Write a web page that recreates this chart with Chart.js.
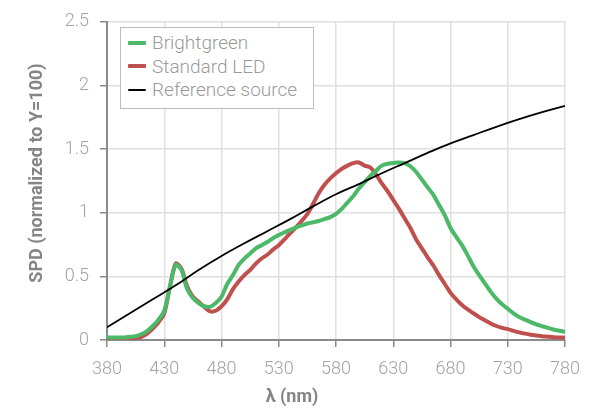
<!DOCTYPE html>
<html>
<head>
<meta charset="utf-8">
<script src="https://cdn.jsdelivr.net/npm/chart.js@4/dist/chart.umd.min.js"></script>
<style>
  html, body { margin: 0; padding: 0; background: #fff; }
  #wrap { position: relative; width: 592px; height: 412px; }
  #c { position: absolute; left: 0; top: 0; }
  #legend {
    position: absolute; left: 120px; top: 27px; width: 194px; height: 82px;
    border: 1.5px solid #bdbdbd; background: #fff; box-sizing: border-box;
    font-family: Roboto, "DejaVu Sans", sans-serif; font-weight: 300; font-size: 19px; color: #9a9a9a;
    padding-top: 3px;
  }
  .row { position: relative; height: 23.5px; line-height: 23.5px; padding-left: 31px; white-space: nowrap; }
  .sw { position: absolute; left: 7px; top: 50%; width: 18px; margin-top: -2px; height: 4px; border-radius: 1px; }
</style>
</head>
<body>
<div id="wrap">
  <canvas id="c" width="592" height="412"></canvas>
  <div id="legend"></div>
</div>
<script>
// ---- data ----
const wavelengths = [380,385,390,395,400,405,410,415,420,425,430,435,440,445,450,455,460,465,470,475,480,485,490,495,500,505,510,515,520,525,530,535,540,545,550,555,560,565,570,575,580,585,590,595,600,605,610,615,620,625,630,635,640,645,650,655,660,665,670,675,680,685,690,695,700,705,710,715,720,725,730,735,740,745,750,755,760,765,770,775,780];
const brightgreen = [0.02,0.02,0.02,0.02,0.025,0.03,0.045,0.07,0.11,0.16,0.23,0.42,0.59,0.55,0.40,0.33,0.29,0.265,0.26,0.29,0.34,0.44,0.51,0.59,0.64,0.68,0.72,0.745,0.77,0.80,0.825,0.845,0.865,0.885,0.90,0.915,0.925,0.935,0.95,0.965,0.99,1.03,1.08,1.13,1.19,1.24,1.29,1.33,1.37,1.385,1.39,1.395,1.39,1.365,1.32,1.26,1.20,1.14,1.06,0.98,0.88,0.81,0.745,0.665,0.58,0.51,0.445,0.38,0.325,0.28,0.245,0.21,0.18,0.16,0.14,0.122,0.108,0.095,0.083,0.073,0.065];
const standardLED = [0.01,0.01,0.01,0.01,0.01,0.015,0.025,0.05,0.09,0.14,0.21,0.42,0.60,0.56,0.42,0.34,0.30,0.26,0.225,0.23,0.265,0.32,0.40,0.46,0.51,0.55,0.60,0.64,0.67,0.71,0.745,0.79,0.84,0.885,0.935,0.99,1.07,1.155,1.22,1.27,1.31,1.345,1.37,1.39,1.395,1.37,1.355,1.30,1.23,1.17,1.10,1.03,0.955,0.88,0.79,0.72,0.65,0.585,0.51,0.44,0.37,0.32,0.275,0.24,0.21,0.18,0.155,0.13,0.11,0.095,0.085,0.072,0.06,0.05,0.042,0.036,0.03,0.026,0.022,0.02,0.018];
const referenceWavelengths = [380,400,420,440,460,480,500,520,540,560,580,600,620,640,660,680,700,720,740,760,780];
const referenceSource = [0.10,0.21,0.32,0.43,0.55,0.66,0.76,0.855,0.95,1.05,1.145,1.225,1.31,1.39,1.47,1.545,1.61,1.675,1.735,1.79,1.84];
const xTicks = [380,430,480,530,580,630,680,730,780];
const yTicks = [0,0.5,1,1.5,2,2.5];
const seriesNames = ["Brightgreen","Standard LED","Reference source"];
const seriesColors = ["#4cb968","#c0504d","#000000"];

const toPts = (xs, ys) => xs.map((x, i) => ({ x: x, y: ys[i] }));

const tickFont = { family: "Roboto, 'DejaVu Sans', sans-serif", size: 18, weight: 300 };
const tickColor = "#a3a3a3";
const axisColor = "#8a8a8a";
const gridColor = "#e0e0e0";

const axisTitles = {
  id: "axisTitles",
  afterDraw(chart) {
    const ctx = chart.ctx;
    ctx.save();
    ctx.fillStyle = "#858585";
    ctx.font = "bold 18px Roboto, 'DejaVu Sans', sans-serif";
    ctx.textAlign = "center";
    ctx.textBaseline = "middle";
    ctx.fillText("λ (nm)", 292, 397);
    ctx.translate(37, 173);
    ctx.rotate(-Math.PI / 2);
    ctx.fillText("SPD (normalized to Y=100)", 0, 0);
    ctx.restore();
  }
};

const chart = new Chart(document.getElementById("c"), {
  type: "line",
  data: {
    datasets: [
      { label: seriesNames[0], data: toPts(wavelengths, brightgreen), borderColor: seriesColors[0], borderWidth: 4, pointRadius: 0, tension: 0.3, order: 1 },
      { label: seriesNames[1], data: toPts(wavelengths, standardLED), borderColor: seriesColors[1], borderWidth: 4, pointRadius: 0, tension: 0.3, order: 2 },
      { label: seriesNames[2], data: toPts(referenceWavelengths, referenceSource), borderColor: seriesColors[2], borderWidth: 1.8, pointRadius: 0, tension: 0.4, order: 0 }
    ]
  },
  options: {
    responsive: false,
    animation: false,
    events: [],
    layout: { padding: { top: 12, right: 23, left: 0, bottom: 0 } },
    plugins: { legend: { display: false }, tooltip: { enabled: false } },
    scales: {
      x: {
        type: "linear", min: 380, max: 780,
        afterBuildTicks: s => { s.ticks = xTicks.map(v => ({ value: v })); },
        afterFit: s => { s.height = 72; },
        ticks: { font: tickFont, color: tickColor, padding: 12, maxRotation: 0, callback: v => String(v) },
        grid: { color: gridColor, lineWidth: 1.5, tickColor: axisColor, tickLength: 7 },
        border: { color: axisColor, width: 2 }
      },
      y: {
        type: "linear", min: 0, max: 2.5,
        afterBuildTicks: s => { s.ticks = yTicks.map(v => ({ value: v })); },
        afterFit: s => { s.width = 107; },
        ticks: { font: tickFont, color: tickColor, padding: 11, callback: v => String(v) },
        grid: { color: gridColor, lineWidth: 1.5, tickColor: axisColor, tickLength: 7 },
        border: { color: axisColor, width: 2 }
      }
    }
  },
  plugins: [axisTitles]
});

// HTML legend from the series arrays
const leg = document.getElementById("legend");
seriesNames.forEach((name, i) => {
  const row = document.createElement("div");
  row.className = "row";
  const sw = document.createElement("span");
  sw.className = "sw";
  sw.style.background = seriesColors[i];
  if (i === 2) { sw.style.height = "2px"; sw.style.marginTop = "-1px"; }
  row.appendChild(sw);
  row.appendChild(document.createTextNode(name));
  leg.appendChild(row);
});
</script>
</body>
</html>
